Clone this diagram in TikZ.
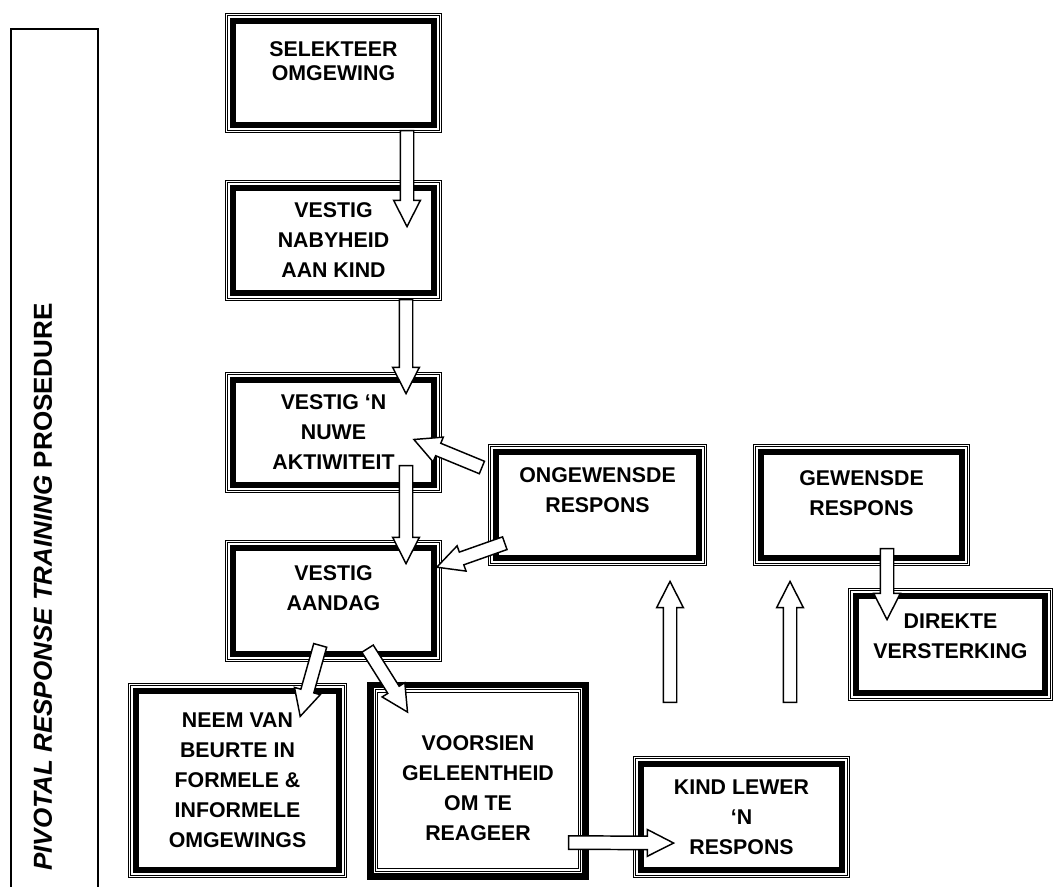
\documentclass[tikz,border=0pt]{standalone}
\usepackage{fontspec}
\setmainfont{Liberation Sans}
\usetikzlibrary{positioning, calc, shapes.arrows}
\newcommand\insetrect[2]{%
	\draw[line width=#2]
		([shift={(#1,#1)}]path picture bounding box.south west) rectangle
		([shift={(-#1,-#1)}]path picture bounding box.north east);
}
\tikzset{
	boxtext/.style ={
		align = center,
		font={\fontsize{16}{22.5}\selectfont\bfseries}
	},
	boxsize/.style 2 args={
		minimum width=#1*0.75pt,
		minimum height=#2*0.75pt,
	},
	framed/.append style={
		boxtext,
		fill=white,
		anchor=north west,
		inner sep=0pt,
		outer sep=0pt,
		path picture={
			\insetrect{0.45pt}{0.9pt}
			\insetrect{1.9pt}{0.45pt}
			\insetrect{5.8pt}{4.6pt}
		}
	},
	framedinv/.append style={
		framed,
		path picture={
			\insetrect{2.5pt}{5pt}
			\insetrect{6.2pt}{0.6pt}
			\insetrect{8pt}{0.6pt}
		}
	},
	barrow/.append style={
		single arrow,
		draw,
		fill=white,
		line width=1.1pt,
		inner xsep=0pt,
		inner ysep=4.5pt,
		text height=0pt,
		text depth=0pt,
		outer sep=0pt,
		single arrow head extend=5pt,
		single arrow tip angle=54
	}
}
% hollow block arrow from #2 to #3
\newcommand\blockarrow[3]{%
	\path let \p1=($(#3)-(#2)$), \n1={atan2(\y1,\x1)}, \n2={veclen(\x1,\y1)} in
		node(#1)[barrow, rotate=\n1, minimum height=\n2] at ($(#2)!0.5!(#3)$) {};
}

\begin{document}
\begin{tikzpicture}[x=0.75pt, y=-0.75pt]

\useasboundingbox (0,0) rectangle (1055,886);
\fill[white] (0,0) rectangle (1055,886);

\node(side)[draw, line width=1.6pt, anchor=north west, minimum width=87*0.75pt, minimum height=880*0.75pt] at (10,28) {};
\node(sidetitle)[rotate=90, font={\fontsize{19.5}{23}\selectfont\bfseries}] at (43,587) {\textit{PIVOTAL RESPONSE TRAINING} PROSEDURE};

\node(sel)[framed, boxsize={217}{120}] at (225,13) {SELEKTEER\\[-4.5pt]OMGEWING\\[-4.5pt]\mbox{}};
\node(nab)[framed, boxsize={217}{121}, below=35.25pt of sel] {VESTIG\\NABYHEID\\AAN KIND};
\node(akt)[framed, boxsize={217}{121}, below=53.25pt of nab] {VESTIG ‘N\\NUWE\\AKTIWITEIT};
\node(aan)[framed, boxsize={217}{122}, below=35.25pt of akt] {VESTIG\\AANDAG\\[-3pt]\mbox{}};

\node(ong)[framed, boxsize={219}{122}] at (488,444) {ONGEWENSDE\\RESPONS\\\mbox{}};
\node(gew)[framed, boxsize={217}{122}, right=34.5pt of ong] {GEWENSDE\\RESPONS\\[-4.5pt]\mbox{}};
\node(dir)[framed, boxsize={205}{113}] at (848,588) {DIREKTE\\VERSTERKING\\[-10.5pt]\mbox{}};

\node(neem)[framed, boxsize={219}{195}] at (128,683) {NEEM VAN\\BEURTE IN\\FORMELE \&\\INFORMELE\\OMGEWINGS};
\node(voor)[framedinv, boxsize={222}{198}, right=15pt of neem] {\mbox{}\\[0.5pt]VOORSIEN\\GELEENTHEID\\OM TE\\REAGEER};
\node(kind)[framed, boxsize={217}{122}] at (633,756) {KIND LEWER\\‘N\\RESPONS};

% arrow ends
\coordinate(s1) at ($(sel.south east)+(-35,-9)$);
\coordinate(t1) at ($(nab.north east)+(-35,40)$);
\coordinate(s2) at ($(nab.south east)+(-36,-8)$);
\coordinate(t2) at ($(akt.north east)+(-36,15)$);
\coordinate(s3) at ($(akt.south east)+(-36,-34)$);
\coordinate(t3) at ($(aan.north east)+(-36,17)$);
\coordinate(s4) at ($(ong.north west)+(0,26)$);
\coordinate(t4) at ($(akt.north east)+(-22,70)$);
\coordinate(s5) at ($(ong.north west)+(23,97)$);
\coordinate(t5) at ($(aan.north east)+(1,25)$);
\coordinate(s6) at ($(aan.south west)+(97,-23)$);
\coordinate(t6) at ($(neem.north east)+(-45,27)$);
\coordinate(s7) at ($(aan.south west)+(139,-19)$);
\coordinate(t7) at ($(voor.north west)+(37,25)$);
\coordinate(s8) at ($(voor.south east)+(-27,-37)$);
\coordinate(t8) at ($(kind.south west)+(34,-35)$);
\coordinate(s9) at ($(kind.north west)+(37,-47)$);
\coordinate(t9) at ($(ong.south east)+(-37,22)$);
\coordinate(s10) at ($(kind.north west)+(157,-47)$);
\coordinate(t10) at ($(gew.south west)+(37,22)$);
\coordinate(s11) at ($(gew.south east)+(-83,-24)$);
\coordinate(t11) at ($(dir.north west)+(39,25)$);

\foreach \ii in {1,...,11} {
	\blockarrow{arr\ii}{s\ii}{t\ii}
};

\end{tikzpicture}
\end{document}
